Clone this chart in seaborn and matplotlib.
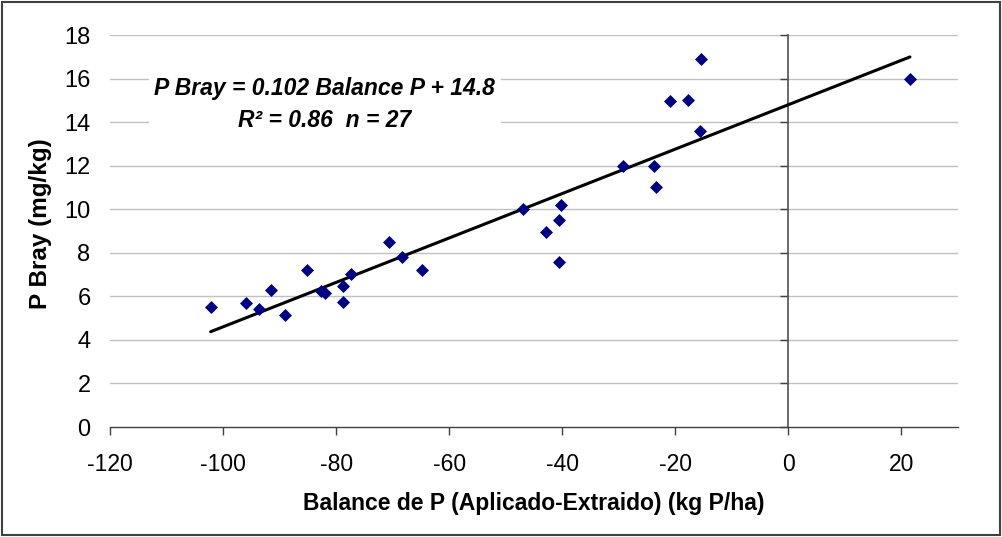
import numpy as np
import pandas as pd
import matplotlib
matplotlib.use("Agg")
import matplotlib.pyplot as plt
import seaborn as sns
from matplotlib.patches import Rectangle

# Data
balance_p = [-102.2, -96.0, -93.7, -91.6, -89.0, -85.2, -82.7, -82.0, -78.7, -78.7,
             -77.4, -70.6, -68.3, -64.8, -47.0, -42.9, -40.6, -40.2, -40.6, -29.3,
             -23.7, -23.4, -21.0, -17.7, -15.6, -15.4, 21.5]
p_bray = [5.52, 5.68, 5.42, 6.27, 5.13, 7.2, 6.26, 6.17, 6.47, 5.74,
          7.01, 8.48, 7.82, 7.21, 10.0, 8.97, 9.5, 10.2, 7.56, 12.0,
          12.0, 11.0, 14.97, 15.0, 13.6, 16.9, 15.96]
slope = 0.102
intercept = 14.8
r2 = 0.86
x_ticks = [-120, -100, -80, -60, -40, -20, 0, 20]
y_ticks = [0, 2, 4, 6, 8, 10, 12, 14, 16, 18]

df = pd.DataFrame({"balance": balance_p, "pbray": p_bray})

sns.set_theme(style="white")
plt.rcParams["font.family"] = ["Liberation Sans", "DejaVu Sans"]
plt.rcParams["text.color"] = "black"
plt.rcParams["axes.labelcolor"] = "black"
plt.rcParams["xtick.color"] = "black"
plt.rcParams["ytick.color"] = "black"

fig = plt.figure(figsize=(10.03, 5.37), dpi=100)
ax = fig.add_axes([110 / 1003, 1 - 427 / 537, (958 - 110) / 1003, (427 - 35) / 537])

# grid lines
for yv in y_ticks[1:]:
    ax.axhline(yv, color="#c0c0c0", lw=1.0, zorder=0)

# fit line
xfit = np.array([min(balance_p), max(balance_p)])
fit_df = pd.DataFrame({"balance": xfit, "pbray": slope * xfit + intercept})
sns.lineplot(data=fit_df, x="balance", y="pbray", ax=ax, color="black", lw=2.2, zorder=3)

sns.scatterplot(data=df, x="balance", y="pbray", ax=ax, marker="D", color="#000080",
                s=44, edgecolor="#000080", linewidth=0, zorder=4)

ax.set_xlim(-120, 30)
ax.set_ylim(0, 18)
ax.set_xticks(x_ticks)
ax.set_yticks(y_ticks)
ax.set_xticklabels([str(v) for v in x_ticks])
ax.set_yticklabels([str(v) for v in y_ticks])

for s in ["top", "right", "left"]:
    ax.spines[s].set_visible(False)
ax.spines["bottom"].set_color("#404040")
ax.spines["bottom"].set_linewidth(1.0)
ax.tick_params(axis="x", direction="out", length=6, width=1, color="#404040",
               labelsize=16.5, pad=13, bottom=True, labelcolor="black")
ax.tick_params(axis="y", length=0, labelsize=17, pad=14, left=False, labelcolor="black")

# vertical axis crossing at x = 0
sec = ax.secondary_yaxis((0 - (-120)) / 150)
sec.set_yticks(y_ticks)
sec.tick_params(axis="y", direction="in", length=6, width=1, color="#404040",
                left=False, right=True, labelleft=False, labelright=False)
for s in ["top", "left", "bottom"]:
    sec.spines[s].set_visible(False)
sec.spines["right"].set_visible(True)
sec.spines["right"].set_color("#505050")
sec.spines["right"].set_linewidth(1.2)

ax.set_xlabel("Balance de P (Aplicado-Extraido) (kg P/ha)", fontsize=16.5,
              fontweight="bold", labelpad=11)
ax.set_ylabel("P Bray (mg/kg)", fontsize=17.5, fontweight="bold", labelpad=9)
ax.yaxis.label.set_y(0.518)

eq = f"P Bray = {slope:.3f} Balance P + {intercept:.1f}\nR\u00b2 = {r2:.2f}  n = {len(balance_p)}"
ax.text(-82.0, 14.8, eq, fontsize=16.5, fontweight="bold", fontstyle="italic",
        ha="center", va="center", linespacing=1.5, zorder=5,
        bbox=dict(facecolor="white", edgecolor="none", pad=4))

fig.patches.append(Rectangle((2 / 1003, 2 / 537), 998 / 1003, 533 / 537,
                             transform=fig.transFigure, fill=False,
                             edgecolor="#404040", lw=1.5))

fig.savefig("out.png", dpi=100)
